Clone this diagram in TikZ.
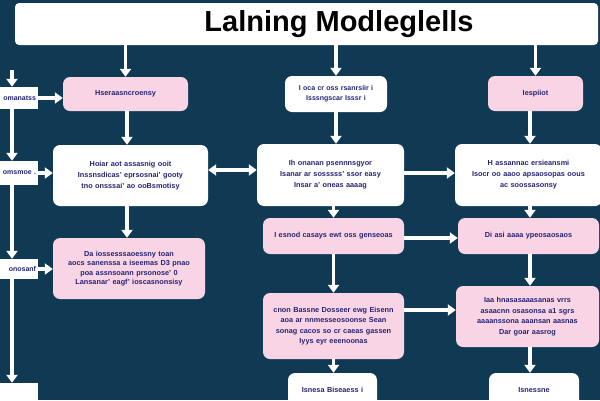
\documentclass[tikz,border=0pt]{standalone}
\usepackage{fontspec}
\setmainfont{Liberation Sans}
\usetikzlibrary{arrows.meta}
\definecolor{bgnavy}{RGB}{16,57,84}
\definecolor{boxpink}{RGB}{249,212,228}
\definecolor{txtnavy}{RGB}{38,36,115}
\tikzset{
  box/.style={rounded corners=7pt, align=center, inner sep=2pt,
    font=\fontsize{7.3}{11}\selectfont\bfseries, text=txtnavy},
  whitebox/.style={box, fill=white},
  pinkbox/.style={box, fill=boxpink},
  sidebox/.style={fill=white, inner sep=0pt, font=\fontsize{7}{8}\selectfont\bfseries, text=txtnavy, align=right},
  arr/.style={draw=white, line width=3.5pt, -{Triangle[width=11pt,length=8pt]}},
  arrboth/.style={draw=white, line width=3.5pt, {Triangle[width=11pt,length=8pt]}-{Triangle[width=11pt,length=8pt]}}
}
\begin{document}
\begin{tikzpicture}[x=1pt,y=-1pt]
\fill[bgnavy] (0,0) rectangle (600,400);
\useasboundingbox (0,0) rectangle (600,400);
% title
\node[whitebox, minimum width=583pt, minimum height=42pt, rounded corners=4pt] (title) at (306.5,24) {};
\node[font=\fontsize{29}{30}\selectfont\bfseries, text=black, inner sep=0pt] (titletext) at (339,24) {Lalning Modleglells};
% side boxes
\node[sidebox, minimum width=48pt, minimum height=22pt, text width=44pt] (L1) at (14,98) {omanatss};
\node[sidebox, minimum width=48pt, minimum height=24pt, text width=44pt] (L2) at (14,173) {omsmoe .};
\node[sidebox, minimum width=48pt, minimum height=20pt, text width=44pt] (L3) at (14,269) {onosanf};
\node[sidebox, minimum width=48pt, minimum height=30pt, text width=44pt] (L4) at (14,398) {};
\coordinate (top) at (12,70);
% column 1
\node[pinkbox, minimum width=125pt, minimum height=34pt] (c1a) at (125.5,94) {Hseraasncroensy};
\node[whitebox, minimum width=155pt, minimum height=61pt, text width=148pt] (c1b) at (130.5,175.5)
  {Hoiar aot assasnig ooit\\ Inssnsdicas' eprsosnai' gooty\\ tno onsssai' ao ooBsmotisy};
\node[pinkbox, minimum width=152pt, minimum height=61pt, text width=146pt, font=\fontsize{7.3}{9.5}\selectfont\bfseries] (c1c) at (129,268.5)
  {Da iossesssaoessny toan\\ aocs sanenssa a iseemas D3 pnao\\ poa assnsoann prsonose' 0\\ Lansanar' eagf' ioscasnonsisy};
% column 2
\node[whitebox, minimum width=102pt, minimum height=36pt, text width=96pt, font=\fontsize{7}{10}\selectfont\bfseries] (c2a) at (336,94)
  {I oca cr oss rsanrsiir i\\ Isssngscar Isssr i};
\node[whitebox, minimum width=147pt, minimum height=62pt, text width=142pt] (c2b) at (330.5,175)
  {Ih onanan psennnsgyor\\ Isanar ar sosssss' ssor easy\\ Insar a' oneas aaaag};
\node[pinkbox, minimum width=141pt, minimum height=36pt, text width=136pt] (c2c) at (333.5,236)
  {I esnod casays ewt oss genseoas};
\node[pinkbox, minimum width=141pt, minimum height=66pt, text width=136pt, font=\fontsize{7.3}{10.5}\selectfont\bfseries] (c2d) at (333.5,326)
  {cnon Bassne Dosseer ewg Eisenn\\ aoa ar nnmesseosoonse Sean\\ sonag cacos so cr caeas gassen\\ Iyys eyr eeenoonas};
\node[whitebox, minimum width=89pt, minimum height=38pt, text width=84pt] (c2e) at (332.5,392) {\raisebox{5pt}{Isnesa Biseaess i}};
% column 3
\node[pinkbox, minimum width=95pt, minimum height=35pt] (c3a) at (535.5,93.5) {Iespiiot};
\node[whitebox, minimum width=147pt, minimum height=62pt, text width=142pt] (c3b) at (528.5,175)
  {H assannac ersieansmi\\ Isocr oo aaoo apsaosopas oous\\ ac soossasonsy};
\node[pinkbox, minimum width=141pt, minimum height=36pt, text width=136pt] (c3c) at (528.5,236)
  {Di asi aaaa ypeosaosaos};
\node[pinkbox, minimum width=143pt, minimum height=61pt, text width=138pt, font=\fontsize{7.3}{10.5}\selectfont\bfseries] (c3d) at (527.5,316.5)
  {Iaa hnasasaaasanas vrrs\\ asaacnn osasonsa a1 sgrs\\ aaaanssona aaansan aasnas\\ Dar goar aasrog};
\node[whitebox, minimum width=90pt, minimum height=38pt, text width=84pt] (c3e) at (534,392) {\raisebox{5pt}{Isnessne}};
% arrows from title
\draw[arr] (title.south -| c1a) -- (c1a.north);
\draw[arr] (title.south -| c2a) -- (c2a.north);
\draw[arr] (title.south -| c3a) -- (c3a.north);
% left column
\draw[arr] (top) -- (L1.north -| top);
\draw[arr] (L1.south -| top) -- (L2.north -| top);
\draw[arr] (L2.south -| top) -- (L3.north -| top);
\draw[arr] (L3.south -| top) -- (L4.north -| top);
\draw[arr] (L1.east) -- (L1.east -| c1a.west);
\draw[arr] (L2.east) -- (L2.east -| c1b.west);
\draw[arr] (L3.east) -- (L3.east -| c1c.west);
% column verticals
\draw[arr] (c1a.south -| 127,0) -- (c1b.north -| 127,0);
\draw[arr] (c1b.south -| 127,0) -- (c1c.north -| 127,0);
\draw[arr] (c2a.south) -- (c2a.south |- c2b.north);
\draw[arr] (c2b.south -| c2c) -- (c2c.north);
\draw[arr] (c2c.south) -- (c2d.north);
\draw[arr] (c2d.south) -- (c2e.north -| c2d);
\draw[arr] (c3a.south -| 530,0) -- (c3b.north -| 530,0);
\draw[arr] (c3b.south -| 530,0) -- (c3c.north -| 530,0);
\draw[arr] (c3c.south -| 530,0) -- (c3d.north -| 530,0);
\draw[arr] (c3d.south -| 530,0) -- (c3e.north -| 530,0);
% horizontals
\draw[arrboth] (c1b.east |- 0,170) -- (c2b.west |- 0,170);
\draw[arr] (c2b.east |- 0,173) -- (c3b.west |- 0,173);
\draw[arr] (c2c.east |- 0,238) -- (c3c.west |- 0,238);
\draw[arr] (c2d.east |- 0,310) -- (c3d.west |- 0,310);
\end{tikzpicture}
\end{document}
